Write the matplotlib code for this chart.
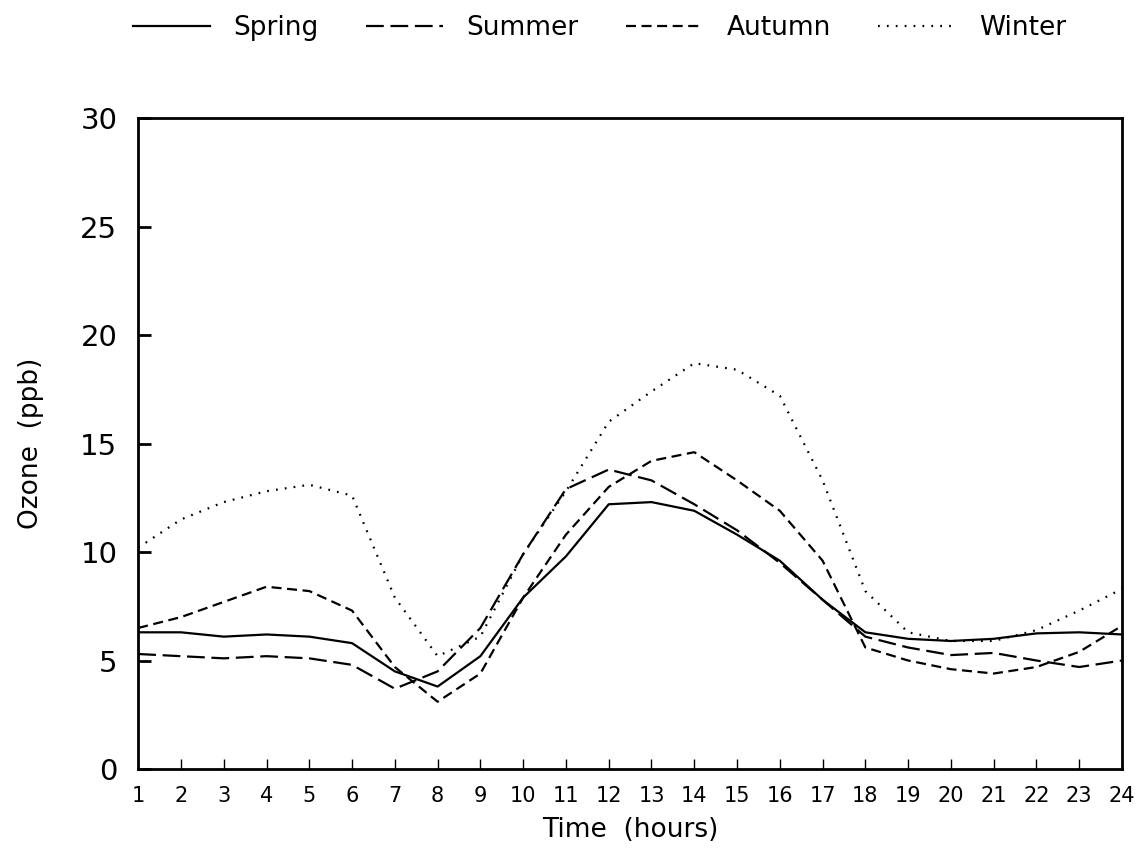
import matplotlib
matplotlib.use("Agg")
import matplotlib.pyplot as plt

# hourly mean ozone (ppb) by season
hours = list(range(1, 25))
spring = [6.3, 6.3, 6.1, 6.2, 6.1, 5.8, 4.5, 3.8, 5.2, 7.9, 9.8, 12.2,
          12.3, 11.9, 10.8, 9.6, 7.8, 6.3, 6.0, 5.9, 6.0, 6.25, 6.3, 6.2]
summer = [5.3, 5.2, 5.1, 5.2, 5.1, 4.8, 3.7, 4.5, 6.5, 9.9, 12.9, 13.8,
          13.3, 12.2, 11.0, 9.5, 7.8, 6.1, 5.6, 5.25, 5.35, 5.0, 4.7, 5.0]
autumn = [6.5, 7.0, 7.7, 8.4, 8.2, 7.3, 4.7, 3.1, 4.4, 7.9, 10.8, 13.0,
          14.2, 14.6, 13.3, 11.9, 9.6, 5.6, 5.0, 4.6, 4.4, 4.7, 5.4, 6.6]
winter = [10.2, 11.5, 12.3, 12.8, 13.1, 12.6, 7.9, 5.2, 6.1, 9.9, 12.8, 16.0,
          17.4, 18.7, 18.4, 17.2, 13.3, 8.2, 6.3, 5.9, 5.9, 6.4, 7.3, 8.3]

fig = plt.figure(figsize=(11.42, 8.52), dpi=100)
ax = fig.add_axes([0.121, 0.0974, 0.8615, 0.7641])

ax.plot(hours, spring, color='black', lw=1.6, linestyle='-', label='Spring')
ax.plot(hours, summer, color='black', lw=1.6, linestyle=(0, (8, 3)), label='Summer')
ax.plot(hours, autumn, color='black', lw=1.6, linestyle=(0, (4.5, 2.5)), label='Autumn')
ax.plot(hours, winter, color='black', lw=1.6, linestyle=(0, (0.8, 3.2)), label='Winter')

ax.set_xlim(1, 24)
ax.set_ylim(0, 30)
ax.set_xticks(hours)
ax.set_yticks([0, 5, 10, 15, 20, 25, 30])
ax.tick_params(axis='x', direction='in', length=7, width=1, labelsize=15, pad=12)
ax.tick_params(axis='y', direction='in', length=9, width=2, labelsize=21, pad=15)
for s in ax.spines.values():
    s.set_linewidth(2)

ax.set_xlabel('Time  (hours)', fontsize=19, labelpad=8)
ax.set_ylabel('Ozone  (ppb)', fontsize=19, labelpad=26)

fig.legend(loc='upper center', bbox_to_anchor=(0.525, 1.01), ncol=4, frameon=False,
           fontsize=19, handlelength=2.9, handletextpad=0.9, columnspacing=1.8)

fig.savefig('out.png', dpi=100)
